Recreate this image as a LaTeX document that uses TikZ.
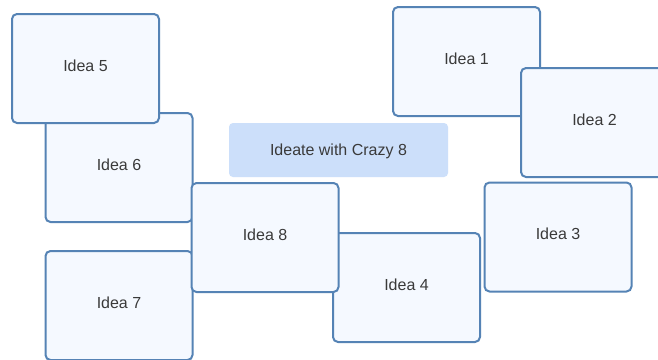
\documentclass[tikz,border=0pt]{standalone}
\usepackage{fontspec}
\setmainfont{Liberation Sans}
\begin{document}
\begin{tikzpicture}[x=1pt,y=-1pt,
  idea/.style={draw=ideaborder, fill=ideafill, line width=2pt, rounded corners=5pt,
    minimum width=147pt, minimum height=109pt, inner sep=0pt, text=ideatext,
    text height=11.6pt, text depth=6pt,
    font=\fontsize{16}{19}\selectfont},
  title/.style={fill=titlefill, rounded corners=4pt, minimum width=219pt, minimum height=54pt,
    inner sep=0pt, text=ideatext, text height=11.6pt, text depth=0pt,
    font=\fontsize{16}{19}\selectfont}]
\definecolor{ideaborder}{HTML}{5583B5}
\definecolor{ideafill}{HTML}{F5F9FF}
\definecolor{titlefill}{HTML}{CCDFFA}
\definecolor{ideatext}{HTML}{3A3A3A}
\useasboundingbox[fill=white] (0,0) rectangle (658,359);
\clip (0,0) rectangle (658,359);
\node[idea] (i6) at (119,167.5) {Idea 6};
\node[idea] (i5) at (85.5,68.5) {Idea 5};
\node[idea] (i7) at (119,305.5) {Idea 7};
\node[idea] (i4) at (406.5,287.5) {Idea 4};
\node[idea] (i8) at (265,237.5) {Idea 8};
\node[idea] (i1) at (466.5,61.5) {Idea 1};
\node[idea] (i2) at (594.5,122.5) {Idea 2};
\node[idea] (i3) at (558,237) {Idea 3};
\node[title] (t) at (338.5,150) {Ideate with Crazy 8};
\end{tikzpicture}
\end{document}
